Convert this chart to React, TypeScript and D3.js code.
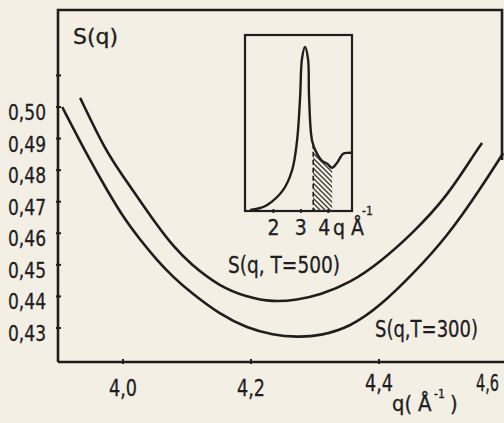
import * as d3 from 'd3';

// main curves
const q500 = [3.933, 3.972, 4.0, 4.027, 4.053, 4.078, 4.105, 4.152, 4.194, 4.234, 4.272, 4.308, 4.355, 4.402, 4.453, 4.506, 4.553, 4.561];
const s500 = [0.5029, 0.4864, 0.4781, 0.4702, 0.4626, 0.456, 0.4503, 0.443, 0.4398, 0.4382, 0.4389, 0.4405, 0.4443, 0.4509, 0.4601, 0.4715, 0.4864, 0.4886];

const q300 = [3.905, 3.948, 3.975, 4.0, 4.027, 4.053, 4.078, 4.105, 4.152, 4.194, 4.234, 4.272, 4.308, 4.355, 4.402, 4.453, 4.506, 4.558, 4.589, 4.594];
const s300 = [0.5, 0.4832, 0.4737, 0.4652, 0.4579, 0.4515, 0.4462, 0.4414, 0.4342, 0.43, 0.4278, 0.4271, 0.4275, 0.4303, 0.437, 0.4471, 0.4588, 0.474, 0.4838, 0.4854];

// inset: full S(q) curve
const qInset = [1.15, 1.51, 1.77, 2.35, 2.68, 2.86, 2.97, 3.04, 3.15, 3.26, 3.3, 3.41, 3.59, 3.77, 3.96, 4.14, 4.32, 4.54, 4.72, 4.87];
const sInset = [0.02, 0.06, 0.12, 0.42, 0.82, 1.41, 2.27, 3.06, 3.3, 3.06, 2.27, 1.41, 1.15, 1.01, 0.95, 0.87, 0.97, 1.15, 1.17, 1.17];
const hatchRange = [3.45, 4.14];

const xTicks = [4.0, 4.2, 4.4, 4.6];
const yTicks = [0.43, 0.44, 0.45, 0.46, 0.47, 0.48, 0.49, 0.5, 0.51];
const yLabeled = [0.43, 0.44, 0.45, 0.46, 0.47, 0.48, 0.49, 0.5];
const insetTicks = [2, 3, 4];

const W = 504;
const H = 423;
const frame = { left: 58, top: 10, right: 502, bottom: 362 };
const inset = { left: 245, top: 35, right: 352, bottom: 211 };

const ink = '#1e1e1e';
const paper = '#f3efe5';
const font = '"DejaVu Sans Condensed", "DejaVu Sans", sans-serif';

const comma = (v: number, f: string) => d3.format(f)(v).replace('.', ',');

export default function App() {
  const x = d3.scaleLinear().domain([4.0, 4.4]).range([123, 379]);
  const y = d3.scaleLinear().domain([0.43, 0.5]).range([328, 107]);
  const ix = d3.scaleLinear().domain([1, 4.9]).range([246, 353]);
  const iy = d3.scaleLinear().domain([0, 3.5]).range([inset.bottom, inset.top + 2]);

  const line = d3
    .line<[number, number]>()
    .x((d) => x(d[0]))
    .y((d) => y(d[1]))
    .curve(d3.curveBasis);
  const icurve = d3.curveCatmullRom.alpha(0.5);
  const iline = d3
    .line<[number, number]>()
    .x((d) => ix(d[0]))
    .y((d) => iy(d[1]))
    .curve(icurve);
  const iarea = d3
    .area<[number, number]>()
    .x((d) => ix(d[0]))
    .y0(inset.bottom)
    .y1((d) => iy(d[1]))
    .curve(icurve);

  const d500 = q500.map((q, i) => [q, s500[i]] as [number, number]);
  const d300 = q300.map((q, i) => [q, s300[i]] as [number, number]);
  const dIn = qInset.map((q, i) => [q, sInset[i]] as [number, number]);

  // height of inset curve at the dashed left edge of the hatching
  const hatchTop = iy(d3.scaleLinear().domain([3.41, 3.59]).range([1.41, 1.15])(hatchRange[0]));

  return (
    <svg
      width={W}
      height={H}
      style={{ position: 'absolute', left: 0, top: 0 }}
      fontFamily={font}
      fill={ink}
    >
      <defs>
        <pattern id="hatch" width={5} height={5} patternUnits="userSpaceOnUse">
          <path d="M-1,-1 L6,6 M-1,4 L1,6 M4,-1 L6,1" stroke="#3a3a3a" strokeWidth={1.3} />
        </pattern>
        <clipPath id="hatchClip">
          <rect
            x={ix(hatchRange[0])}
            y={inset.top}
            width={ix(hatchRange[1]) - ix(hatchRange[0])}
            height={inset.bottom - inset.top}
          />
        </clipPath>
      </defs>
      <rect width={W} height={H} fill={paper} />

      {/* frame */}
      <path
        d={`M${frame.left},${frame.bottom} V${frame.top} H${frame.right} V160`}
        fill="none"
        stroke={ink}
        strokeWidth={2.6}
      />
      <line x1={frame.left} x2={W} y1={frame.bottom} y2={frame.bottom} stroke={ink} strokeWidth={2.6} />

      <g stroke={ink} strokeWidth={0.3}>
        {/* y ticks */}
        {yTicks.map((t) => (
          <line key={t} x1={frame.left - 2} x2={frame.left + 3} y1={y(t)} y2={y(t)} strokeWidth={2} />
        ))}
        {yLabeled.map((t) => (
          <text key={t} x={8} y={y(t) + 13} fontSize={21} textLength={38} lengthAdjust="spacingAndGlyphs">
            {comma(t, '.2f')}
          </text>
        ))}

        {/* x ticks */}
        {xTicks.map((t) => (
          <line key={t} x1={x(t)} x2={x(t)} y1={frame.bottom - 3} y2={frame.bottom + 2} strokeWidth={2} />
        ))}
        {xTicks
          .filter((t) => t < 4.5)
          .map((t) => (
            <text
              key={t}
              x={x(t) - 14}
              y={t < 4.3 ? 396 : 391}
              fontSize={23}
              textLength={28}
              lengthAdjust="spacingAndGlyphs"
            >
              {comma(t, '.1f')}
            </text>
          ))}
        {/* last label sits squeezed against the right edge */}
        <text transform={`translate(${x(4.6) - 31},391) scale(0.7,1)`} fontSize={23}>
          {comma(4.6, '.1f')}
        </text>

        <text x={392} y={411} fontSize={22} textLength={20} lengthAdjust="spacingAndGlyphs">
          q(
        </text>
        <text x={418} y={411} fontSize={22}>
          Å
        </text>
        <text x={434} y={398} fontSize={12}>
          -1
        </text>
        <text x={450} y={411} fontSize={22}>
          )
        </text>

        <text x={73} y={44} fontSize={22} textLength={45} lengthAdjust="spacingAndGlyphs">
          S(q)
        </text>

        <text x={228} y={273} fontSize={23} textLength={112} lengthAdjust="spacingAndGlyphs">
          S(q, T=500)
        </text>
        <text x={375} y={337} fontSize={23} textLength={103} lengthAdjust="spacingAndGlyphs">
          S(q,T=300)
        </text>

        {insetTicks.map((t) => (
          <text key={t} x={ix(t) - (t === 4 ? 4 : 0)} y={235} fontSize={21} textAnchor="middle">
            {t}
          </text>
        ))}
        <text x={333} y={235} fontSize={21}>
          q
        </text>
        <text x={351} y={235} fontSize={21}>
          Å
        </text>
        <text x={362} y={215} fontSize={12}>
          -1
        </text>
      </g>

      {/* curves */}
      <path d={line(d500) ?? ''} fill="none" stroke={ink} strokeWidth={2.6} />
      <path d={line(d300) ?? ''} fill="none" stroke={ink} strokeWidth={2.6} />

      {/* inset */}
      <rect
        x={inset.left}
        y={inset.top}
        width={inset.right - inset.left}
        height={inset.bottom - inset.top}
        fill="none"
        stroke={ink}
        strokeWidth={2.2}
      />
      <path d={iarea(dIn) ?? ''} fill="url(#hatch)" clipPath="url(#hatchClip)" />
      <line
        x1={ix(hatchRange[0])}
        x2={ix(hatchRange[0])}
        y1={hatchTop}
        y2={inset.bottom}
        stroke={ink}
        strokeWidth={1.6}
        strokeDasharray="5,3"
      />
      <path d={iline(dIn) ?? ''} fill="none" stroke={ink} strokeWidth={2.4} />
      {insetTicks.map((t) => (
        <line key={t} x1={ix(t)} x2={ix(t)} y1={inset.bottom - 2} y2={inset.bottom + 2} stroke={ink} strokeWidth={1.8} />
      ))}
    </svg>
  );
}
